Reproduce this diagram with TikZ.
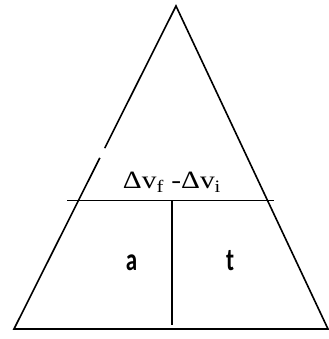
\documentclass[tikz,border=0pt]{standalone}
\usepackage{fontspec}
\setmainfont{Liberation Serif}
\newfontfamily\calib{Carlito}
\usepackage{tikz}
\usetikzlibrary{calc}

\begin{document}
\begin{tikzpicture}[
  x=1bp, y=-1bp,
  edge/.style={draw=black, line width=1.6bp},
  qty/.style={font=\fontsize{25}{25}\selectfont, inner sep=0pt},
  var/.style={font=\calib\bfseries\fontsize{22}{22}\selectfont, inner sep=0pt}
]
\useasboundingbox (0,0) rectangle (329,339);

% corners of the triangle
\coordinate (apex) at (176,6);
\coordinate (bl) at (14,329);
\coordinate (br) at (328,329);

% outline (small break on the left side)
\draw[edge] ($(apex)!0.44!(bl)$) -- (apex) -- (br) -- (bl) -- ($(apex)!0.47!(bl)$);

% dividers
\coordinate (hl) at (67,200.5);
\coordinate (hr) at (274,200.5);
\coordinate (vt) at (172,200.5);
\coordinate (vb) at (172,325);
\draw[edge] (hl) -- (hr);
\draw[edge] (vt) -- (vb);

% labels
\node[qty, anchor=base] (dv) at (172,188.5) {\scalebox{1.18}[1]{Δv\textsubscript{f} -Δv\textsubscript{i}}};
\node[var, anchor=base] (a) at (131.5,270.5) {\scalebox{1.05}[1.45]{a}};
\node[var, anchor=base] (t) at (230,270.5) {\scalebox{1.05}[1.45]{t}};

\end{tikzpicture}
\end{document}
